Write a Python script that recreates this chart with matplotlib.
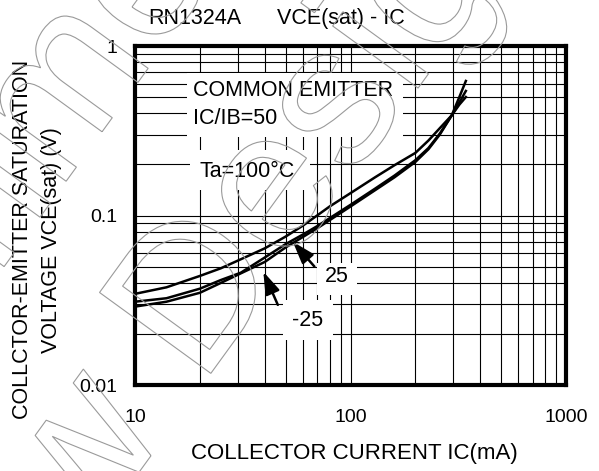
import matplotlib
matplotlib.use("Agg")
import matplotlib.pyplot as plt
from matplotlib.patches import Rectangle, PathPatch
from matplotlib.textpath import TextPath
from matplotlib.font_manager import FontProperties
from matplotlib.transforms import Affine2D

plt.rcParams['font.family'] = ['Liberation Sans', 'DejaVu Sans']

# Collector current (mA) and VCE(sat) (V) for each ambient temperature
ic_ma = [10, 14, 20, 25, 31, 40, 50, 60, 70, 80, 100, 130, 160, 200, 230,
         260, 295, 320, 343]
vce_100c = [0.0345, 0.0377, 0.0440, 0.0488, 0.0552, 0.0640, 0.0751, 0.0870,
            0.1000, 0.1130, 0.1355, 0.168, 0.198, 0.234, 0.277, 0.328,
            0.390, 0.451, 0.500]
vce_25c = [0.0310, 0.0325, 0.0370, 0.0416, 0.0460, 0.0565, 0.0678, 0.0771,
           0.0865, 0.0964, 0.1156, 0.144, 0.172, 0.212, 0.250, 0.305,
           0.390, 0.465, 0.543]
vce_m25c = [0.0290, 0.0310, 0.0350, 0.0400, 0.0456, 0.0532, 0.0648, 0.0746,
            0.0840, 0.0938, 0.1130, 0.141, 0.168, 0.207, 0.246, 0.301,
            0.390, 0.500, 0.622]

x_ticks = [10, 100, 1000]
x_tick_labels = ['10', '100', '1000']
y_ticks = [0.01, 0.1, 1]
y_tick_labels = ['0.01', '0.1', '1']

# Arrow tip / tail points for the temperature callouts (mA, V)
arrow_25_tip = (54, 0.070)
arrow_25_tail = (68, 0.050)
arrow_m25_tip = (39.4, 0.0466)
arrow_m25_tail = (46, 0.0297)

W, H = 599, 471
fig = plt.figure(figsize=(W / 100, H / 100), dpi=100)
ax = fig.add_axes([135 / W, 1 - 385 / H, 431 / W, 339 / H])

ax.set_xscale('log')
ax.set_yscale('log')
ax.set_xlim(10, 1000)
ax.set_ylim(0.01, 1)

ax.plot(ic_ma, vce_100c, color='black', lw=1.8, zorder=3)
ax.plot(ic_ma, vce_25c, color='black', lw=1.8, zorder=3)
ax.plot(ic_ma, vce_m25c, color='black', lw=1.8, zorder=3)

ax.set_xticks(x_ticks, x_tick_labels)
ax.set_yticks(y_ticks, y_tick_labels)
ax.xaxis.set_minor_formatter(plt.NullFormatter())
ax.yaxis.set_minor_formatter(plt.NullFormatter())
ax.tick_params(which='both', length=0)
ax.tick_params(axis='x', pad=17, labelsize=14)
ax.tick_params(axis='y', pad=13, labelsize=14)
ax.grid(which='both', color='black', lw=0.8, zorder=1)
ax.set_axisbelow(True)
for s in ax.spines.values():
    s.set_linewidth(3)
    s.set_zorder(5)

# White panels behind the annotation text
panels = [
    (0.1206, 0.7316, 0.5012, 0.1888),
    (0.1276, 0.5752, 0.2784, 0.1180),
    (0.4223, 0.2655, 0.0928, 0.0944),
    (0.3434, 0.1327, 0.1160, 0.1180),
]
for (px, py, pw, ph) in panels:
    ax.add_patch(Rectangle((px, py), pw, ph, transform=ax.transAxes,
                           facecolor='white', edgecolor='none', zorder=2))

tkw = dict(transform=ax.transAxes, fontsize=15.5, zorder=4)
ax.text(0.1346, 0.8702, 'COMMON EMITTER', ha='left', va='center', **tkw)
ax.text(0.1346, 0.7867, 'IC/IB=50', ha='left', va='center', **tkw)
ax.text(0.1508, 0.6292, 'Ta=100°C', ha='left', va='center', **tkw)
ax.text(0.4677, 0.3195, '25', ha='center', va='center', **tkw)
ax.text(0.4014, 0.1917, '-25', ha='center', va='center', **tkw)

akw = dict(arrowstyle='-|>,head_length=0.9,head_width=0.3', color='black',
           lw=1.8, mutation_scale=15, shrinkA=0, shrinkB=0)
ax.annotate('', xy=arrow_25_tip, xytext=arrow_25_tail, arrowprops=akw, zorder=4)
ax.annotate('', xy=arrow_m25_tip, xytext=arrow_m25_tail, arrowprops=akw, zorder=4)

# Titles and axis labels
fig.text(148 / W, 1 - 18.5 / H, 'RN1324A', fontsize=15.5, ha='left', va='center')
fig.text(277 / W, 1 - 18.5 / H, 'VCE(sat) - IC', fontsize=15.5, ha='left', va='center')
fig.text(354 / W, 1 - 454 / H, 'COLLECTOR CURRENT IC(mA)', fontsize=16,
         ha='center', va='center')
fig.text(23 / W, 1 - 239 / H, 'COLLCTOR-EMITTER SATURATION', fontsize=15.5,
         rotation=90, ha='center', va='center')
fig.text(51 / W, 1 - 240 / H, 'VOLTAGE VCE(sat) (V)', fontsize=15.5,
         rotation=90, ha='center', va='center')

# Outlined diagonal two-line stamp
prop = FontProperties(family='Liberation Sans')
size = 200
line_top = TextPath((0, 0), 'Not Recommended for', size=size, prop=prop)
line_bot = TextPath((0, 0), 'New Design', size=size, prop=prop)
p_tail = TextPath((0, 0), 'Design', size=size, prop=prop)
p_d = TextPath((0, 0), 'D', size=size, prop=prop)
shift = line_bot.get_extents().x1 - p_tail.get_extents().x1
ext_d = p_d.get_extents()
cx = shift + (ext_d.x0 + ext_d.x1) / 2
cy = (ext_d.y0 + ext_d.y1) / 2
eb, et = line_bot.get_extents(), line_top.get_extents()
dx_top = (eb.x0 + eb.x1) / 2 - (et.x0 + et.x1) / 2
stamp_tf = (Affine2D().translate(-cx, -cy).rotate_deg(54)
            .translate(190, H - 285).scale(1 / W, 1 / H) + fig.transFigure)
top_tf = Affine2D().translate(dx_top, 1.15 * size) + stamp_tf
for path, tf in ((line_bot, stamp_tf), (line_top, top_tf)):
    fig.patches.append(PathPatch(path, transform=tf, facecolor='none',
                                 edgecolor='#9a9a9a', lw=0.8, zorder=10))

fig.savefig('out.png', dpi=100)
